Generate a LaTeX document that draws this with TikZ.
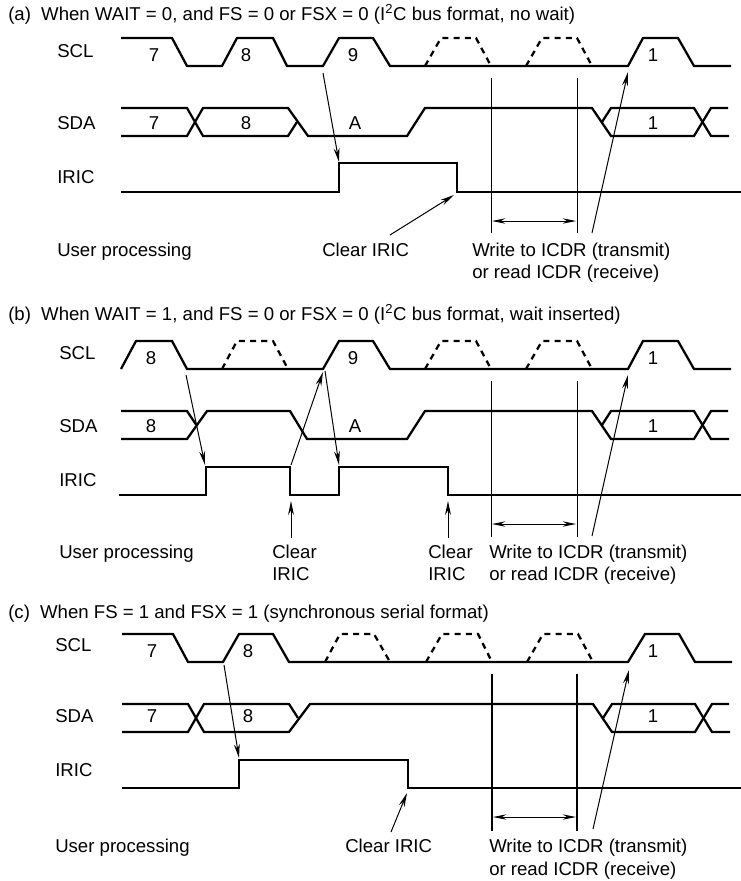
\documentclass[tikz,border=0pt]{standalone}
\usepackage{fontspec}
\setmainfont{Liberation Sans}
\usetikzlibrary{arrows.meta}
\tikzset{
  sig/.style={line width=1.7pt,line join=miter},
  dsig/.style={line width=1.7pt,dash pattern=on 4.6pt off 3.8pt},
  guide/.style={line width=0.75pt},
  guidethick/.style={line width=1.7pt},
  ptr/.style={line width=0.75pt,-{Stealth[length=10.5pt,width=4.4pt]}},
  span/.style={line width=0.75pt,{Stealth[length=10pt,width=4pt]}-{Stealth[length=10pt,width=4pt]}},
  lab/.style={anchor=base west,inner sep=0pt,font=\fontsize{13.95pt}{16pt}\selectfont},
  num/.style={anchor=base,inner sep=0pt,font=\fontsize{13.95pt}{16pt}\selectfont},
}
\begin{document}
\begin{tikzpicture}[x=0.75pt,y=-0.75pt]
\useasboundingbox (0,0) rectangle (741,881);
% ---------- (a)
\node[lab] (ta) at (8,20.7) {(a)\hspace{0.55em}When WAIT = 0, and FS = 0 or FSX = 0 (I\textsuperscript{2}C bus format, no wait)};
\node[lab] (a1) at (57,57.5) {SCL};
\node[lab] (a2) at (57,129.5) {SDA};
\node[lab] (a3) at (57,183) {IRIC};
\node[lab] (a4) at (57,256) {User processing};
\node[lab] (a5) at (322,256) {Clear IRIC};
\node[lab] (a6) at (472,256) {Write to ICDR (transmit)};
\node[lab] (a7) at (472,278) {or read ICDR (receive)};
\node[num] (an1) at (154,62) {7};
\node[num] (an2) at (246,62) {8};
\node[num] (an3) at (353,62) {9};
\node[num] (an4) at (653,62) {1};
\node[num] (an5) at (154,129.5) {7};
\node[num] (an6) at (246,129.5) {8};
\node[num] (an7) at (355,129.5) {A};
\node[num] (an8) at (653,129.5) {1};
\draw[sig] (121,38)--(172,38)--(187,66)--(222,66)--(237,38)--(273,38)--(287,66)--(323,66)--(339,38)--(373,38)--(390,66)--(628,66)--(643,38)--(678,38)--(694,66)--(731,66);
\draw[dsig] (425,66)--(441,38)--(476,38)--(491,66);
\draw[dsig] (526,66)--(542,38)--(577,38)--(592,66);
\draw[sig] (121,108)--(187,108)--(203,136)--(288,136)--(297,122);
\draw[sig] (121,136)--(187,136)--(203,108)--(288,108)--(308,136)--(407,136)--(425,108)--(592,108)--(611,136)--(694,136)--(711,108)--(728,108);
\draw[sig] (602,122)--(611,108)--(694,108)--(711,136)--(729,136);
\draw[sig] (121,192)--(339,192)--(339,163)--(457,163)--(457,192)--(741,192);
\coordinate (ag1) at (491,78); \coordinate (ag2) at (491,233);
\coordinate (ag3) at (577,78); \coordinate (ag4) at (577,233);
\draw[guide] (ag1)--(ag2);
\draw[guide] (ag3)--(ag4);
\coordinate (as1) at (492,221); \coordinate (as2) at (576,221);
\draw[span] (as1)--(as2);
\coordinate (ap1) at (323,73); \coordinate (ap2) at (339,162);
\draw[ptr] (ap1)--(ap2);
\coordinate (ap3) at (390,235); \coordinate (ap4) at (454,195);
\draw[ptr] (ap3)--(ap4);
\coordinate (ap5) at (592,233); \coordinate (ap6) at (628,72);
\draw[ptr] (ap5)--(ap6);
% ---------- (b)
\node[lab] (tb) at (8,320) {(b)\hspace{0.55em}When WAIT = 1, and FS = 0 or FSX = 0 (I\textsuperscript{2}C bus format, wait inserted)};
\node[lab] (b1) at (59,359) {SCL};
\node[lab] (b2) at (59,432) {SDA};
\node[lab] (b3) at (59,486) {IRIC};
\node[lab] (b4) at (59,558) {User processing};
\node[lab] (b5) at (272,558) {Clear};
\node[lab] (b6) at (272,580) {IRIC};
\node[lab] (b7) at (428,558) {Clear};
\node[lab] (b8) at (428,580) {IRIC};
\node[lab] (b9) at (489,558) {Write to ICDR (transmit)};
\node[lab] (b10) at (489,580) {or read ICDR (receive)};
\node[num] (bn1) at (151,364) {8};
\node[num] (bn2) at (353,364) {9};
\node[num] (bn3) at (653,364) {1};
\node[num] (bn4) at (151,432) {8};
\node[num] (bn5) at (355,432) {A};
\node[num] (bn6) at (653,432) {1};
\draw[sig] (121,369)--(136,341)--(172,341)--(187,369)--(323,369)--(339,341)--(373,341)--(390,369)--(628,369)--(643,341)--(678,341)--(694,369)--(731,369);
\draw[dsig] (222,369)--(237,341)--(273,341)--(288,369);
\draw[dsig] (425,369)--(441,341)--(476,341)--(491,369);
\draw[dsig] (526,369)--(542,341)--(577,341)--(592,369);
\draw[sig] (121,411)--(187,411)--(197,426);
\draw[sig] (121,439)--(187,439)--(207,411)--(290,411)--(307,439)--(407,439)--(425,411)--(592,411)--(611,439)--(694,439)--(711,411)--(728,411);
\draw[sig] (602,425)--(611,411)--(694,411)--(711,439)--(729,439);
\draw[sig] (119,495)--(206,495)--(206,467)--(290,467)--(290,495)--(339,495)--(339,467)--(448,467)--(448,495)--(741,495);
\coordinate (bg1) at (491,381); \coordinate (bg2) at (491,537);
\coordinate (bg3) at (577,381); \coordinate (bg4) at (577,537);
\draw[guide] (bg1)--(bg2);
\draw[guide] (bg3)--(bg4);
\coordinate (bs1) at (492,524); \coordinate (bs2) at (576,524);
\draw[span] (bs1)--(bs2);
\coordinate (bp1) at (186,375); \coordinate (bp2) at (205,465);
\draw[ptr] (bp1)--(bp2);
\coordinate (bp3) at (291,465); \coordinate (bp4) at (323,372);
\draw[ptr] (bp3)--(bp4);
\coordinate (bp5) at (325,371); \coordinate (bp6) at (339,465);
\draw[ptr] (bp5)--(bp6);
\coordinate (bp7) at (291,538); \coordinate (bp8) at (291,501);
\draw[ptr] (bp7)--(bp8);
\coordinate (bp9) at (448,538); \coordinate (bp10) at (448,501);
\draw[ptr] (bp9)--(bp10);
\coordinate (bp11) at (592,536); \coordinate (bp12) at (628,375);
\draw[ptr] (bp11)--(bp12);
% ---------- (c)
\node[lab] (tc) at (8,618) {(c)\hspace{0.55em}When FS = 1 and FSX = 1 (synchronous serial format)};
\node[lab] (c1) at (55,651) {SCL};
\node[lab] (c2) at (55,722) {SDA};
\node[lab] (c3) at (55,776) {IRIC};
\node[lab] (c4) at (55,852) {User processing};
\node[lab] (c5) at (345,852) {Clear IRIC};
\node[lab] (c6) at (489,852) {Write to ICDR (transmit)};
\node[lab] (c7) at (489,875) {or read ICDR (receive)};
\node[num] (cn1) at (152,657) {7};
\node[num] (cn2) at (248,657) {8};
\node[num] (cn3) at (653,657) {1};
\node[num] (cn4) at (152,722) {7};
\node[num] (cn5) at (248,722) {8};
\node[num] (cn6) at (653,722) {1};
\draw[sig] (122,634)--(173,634)--(188,662)--(223,662)--(239,634)--(273,634)--(289,662)--(628,662)--(645,634)--(679,634)--(695,662)--(732,662);
\draw[dsig] (325,662)--(340,634)--(374,634)--(390,662);
\draw[dsig] (426,662)--(442,634)--(478,634)--(492,662);
\draw[dsig] (527,662)--(543,634)--(578,634)--(593,662);
\draw[sig] (122,704)--(188,704)--(204,732)--(289,732)--(310,704)--(593,704)--(612,732)--(695,732)--(712,704)--(729,704);
\draw[sig] (122,732)--(188,732)--(204,704)--(289,704)--(298,718);
\draw[sig] (603,718)--(612,704)--(695,704)--(712,732)--(730,732);
\draw[sig] (122,788)--(239,788)--(239,760)--(408,760)--(408,788)--(741,788);
\coordinate (cg1) at (492,674); \coordinate (cg2) at (492,831);
\coordinate (cg3) at (577,674); \coordinate (cg4) at (577,831);
\draw[guidethick] (cg1)--(cg2);
\draw[guidethick] (cg3)--(cg4);
\coordinate (cs1) at (493,817); \coordinate (cs2) at (576,817);
\draw[span] (cs1)--(cs2);
\coordinate (cp1) at (224,665); \coordinate (cp2) at (239,758);
\draw[ptr] (cp1)--(cp2);
\coordinate (cp3) at (391,832); \coordinate (cp4) at (407,793);
\draw[ptr] (cp3)--(cp4);
\coordinate (cp5) at (593,829); \coordinate (cp6) at (629,670);
\draw[ptr] (cp5)--(cp6);
\end{tikzpicture}
\end{document}
